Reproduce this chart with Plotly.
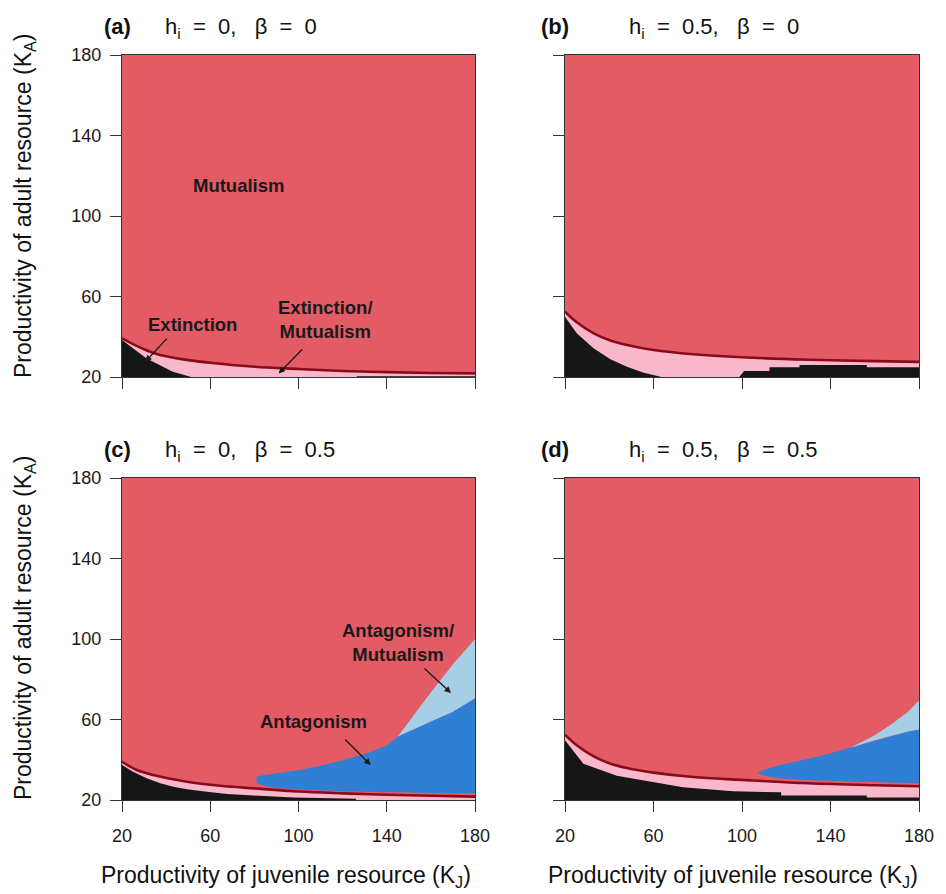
import plotly.graph_objects as go

W, H = 946, 894
OFF = 8  # the page body margin shifts the figure by 8 px
FW, FH = W - OFF, H - OFF
FONT = "Liberation Sans, Arial, Helvetica, sans-serif"

# ---------------- data ----------------
tick_vals = [20, 60, 100, 140, 180]

# Panel (a): h_i = 0, beta = 0
kj_line_a = [20, 25, 30, 35, 40, 50, 60, 80, 100, 120, 140, 160, 180]
ka_line_a = [39.2, 36.3, 33.8, 31.7, 30.3, 28.4, 27.1, 25.1, 24.0, 23.0, 22.4, 22.0, 21.8]
kj_ext_a = [20, 25, 31, 37, 43, 51, 52]
ka_ext_a = [38.4, 34.3, 29.3, 26.0, 22.6, 20.1, 19.0]
kj_ext2_a = [126, 126.5, 180]
ka_ext2_a = [19.0, 20.4, 20.4]

# Panel (b): h_i = 0.5, beta = 0
kj_line_b = [20, 25, 33, 40.5, 48, 60, 78, 100, 130, 160, 180]
ka_line_b = [52.5, 47.5, 41.7, 38.1, 35.9, 33.4, 31.3, 29.8, 28.6, 27.9, 27.5]
kj_ext_b = [20, 25.3, 32.9, 40.5, 48, 55.6, 63.2, 66.2]
ka_ext_b = [50.0, 41.7, 34.3, 28.8, 25.1, 22.1, 20.1, 19.0]
kj_ext2_b = [98, 101, 112.4, 112.4, 126, 126, 156.4, 156.4, 180]
ka_ext2_b = [19.0, 23.0, 23.0, 24.8, 24.8, 26.0, 26.0, 24.8, 24.8]

# Panel (c): h_i = 0, beta = 0.5
kj_line_c = [20, 26.7, 34.2, 49.4, 64.5, 79.7, 100, 120, 140, 160, 180]
ka_line_c = [39.0, 34.9, 32.4, 29.1, 27.1, 25.8, 24.2, 23.3, 22.6, 22.1, 21.7]
kj_ext_c = [20, 25, 31.2, 37.3, 43.3, 49.4, 58.5, 67.6, 79.7, 97.9, 126, 126.5]
ka_ext_c = [37.4, 34.0, 30.8, 28.3, 26.6, 25.3, 24.1, 23.0, 22.2, 21.3, 20.6, 19.0]
kj_blue_c = [81, 85, 90, 100, 110, 120, 130, 140, 145, 150, 160, 170, 180]
ka_blue_top_c = [31.6, 32.6, 33.2, 34.8, 37.0, 39.7, 42.8, 47.0, 51.5, 54.2, 59.0, 63.8, 70.5]
ka_blue_bot_c = [28.3, 27.0, 26.0, 25.2, 24.8, 24.4, 24.1, 23.8, 23.7, 23.6, 23.5, 23.4, 23.3]
kj_lb_c = [145, 150, 160, 170, 180]
ka_lb_top_c = [51.5, 59.0, 73.5, 87.5, 100.0]

# Panel (d): h_i = 0.5, beta = 0.5
kj_line_d = [20, 25, 33, 40, 48, 60, 78, 100, 130, 160, 180]
ka_line_d = [52.5, 47.5, 41.7, 38.3, 35.9, 33.6, 31.4, 30.0, 28.3, 27.3, 26.8]
kj_ext_d = [20, 28.3, 43.4, 60, 73.3, 96, 117.7, 117.7, 156.4, 156.4, 180]
ka_ext_d = [49.7, 38.0, 32.0, 28.8, 26.3, 24.3, 23.8, 22.2, 22.2, 21.3, 21.3]
kj_blue_d = [107.5, 110, 115, 120, 130, 140, 149, 160, 168, 175, 180]
ka_blue_top_d = [33.8, 35.0, 36.8, 38.0, 40.5, 43.2, 46.0, 49.7, 52.0, 54.0, 55.0]
ka_blue_bot_d = [33.0, 32.2, 31.0, 30.4, 29.8, 29.5, 29.2, 28.9, 28.7, 28.5, 28.3]
kj_lb_d = [149, 160, 168, 175, 180]
ka_lb_top_d = [46.0, 52.2, 58.0, 63.8, 69.5]

NB = "\u00a0"
panel_letters = ["(a)", "(b)", "(c)", "(d)"]
panel_params = [
    f"h<sub>i</sub>{NB}{NB}={NB}{NB}0,{NB}{NB}{NB}β{NB}{NB}={NB}{NB}0",
    f"h<sub>i</sub>{NB}{NB}={NB}{NB}0.5,{NB}{NB}{NB}β{NB}{NB}={NB}{NB}0",
    f"h<sub>i</sub>{NB}{NB}={NB}{NB}0,{NB}{NB}{NB}β{NB}{NB}={NB}{NB}0.5",
    f"h<sub>i</sub>{NB}{NB}={NB}{NB}0.5,{NB}{NB}{NB}β{NB}{NB}={NB}{NB}0.5",
]

# ---------------- styles ----------------
RED = "#E35B65"
PINK = "#F9B8CA"
BLACK = "#161616"
BLUE = "#2F7FD4"
LBLUE = "#A6CEE4"
LINE = "#8A0A1C"

fig = go.Figure()


def add_fill(x, y, color, xa, ya, mode="tozeroy"):
    fig.add_trace(go.Scatter(x=x, y=y, mode="lines", line=dict(width=0, color=color),
                             fill=mode, fillcolor=color, xaxis=xa, yaxis=ya,
                             hoverinfo="skip", showlegend=False))


def add_poly(kj, top, bot, color, xa, ya):
    add_fill(list(kj) + list(kj[::-1]), list(top) + list(bot[::-1]), color, xa, ya, "toself")


def add_line(x, y, xa, ya):
    fig.add_trace(go.Scatter(x=x, y=y, mode="lines", line=dict(width=2.6, color=LINE, shape="spline"),
                             xaxis=xa, yaxis=ya, hoverinfo="skip", showlegend=False))


def blue_top_sub(kj_blue, top, kj_lb):
    return [top[kj_blue.index(k)] for k in kj_lb]


# (a)
add_fill(kj_line_a, ka_line_a, PINK, "x", "y")
add_fill(kj_ext_a, ka_ext_a, BLACK, "x", "y")
add_fill(kj_ext2_a, ka_ext2_a, BLACK, "x", "y")
add_line(kj_line_a, ka_line_a, "x", "y")
# (b)
add_fill(kj_line_b, ka_line_b, PINK, "x2", "y2")
add_fill(kj_ext_b, ka_ext_b, BLACK, "x2", "y2")
add_fill(kj_ext2_b, ka_ext2_b, BLACK, "x2", "y2")
add_line(kj_line_b, ka_line_b, "x2", "y2")
# (c)
add_fill(kj_line_c, ka_line_c, PINK, "x3", "y3")
add_fill(kj_ext_c, ka_ext_c, BLACK, "x3", "y3")
add_poly(kj_blue_c, ka_blue_top_c, ka_blue_bot_c, BLUE, "x3", "y3")
add_poly(kj_lb_c, ka_lb_top_c, blue_top_sub(kj_blue_c, ka_blue_top_c, kj_lb_c), LBLUE, "x3", "y3")
add_line(kj_line_c, ka_line_c, "x3", "y3")
# (d)
add_fill(kj_line_d, ka_line_d, PINK, "x4", "y4")
add_fill(kj_ext_d, ka_ext_d, BLACK, "x4", "y4")
add_poly(kj_blue_d, ka_blue_top_d, ka_blue_bot_d, BLUE, "x4", "y4")
add_poly(kj_lb_d, ka_lb_top_d, blue_top_sub(kj_blue_d, ka_blue_top_d, kj_lb_d), LBLUE, "x4", "y4")
add_line(kj_line_d, ka_line_d, "x4", "y4")


def px_x(px):
    return (px - OFF) / FW


def px_y(py):
    return 1 - (py - OFF) / FH


col_px = [(122, 475), (565, 919)]
row_px = [(55, 377), (478, 800)]


def axis(dom, showlabels, is_x):
    return dict(domain=dom, range=[20, 180], tickvals=tick_vals, ticks="outside", ticklen=11,
                tickwidth=1.3, tickcolor="#333", showline=True, linecolor="#333", linewidth=1.4,
                mirror=True, showgrid=False, zeroline=False, showticklabels=showlabels,
                tickfont=dict(family=FONT, size=18, color="#1a1a1a"), fixedrange=True,
                automargin=False, ticklabelstandoff=8 if is_x else 5)


layout_axes = {}
names = [("xaxis", "yaxis", "x", "y"), ("xaxis2", "yaxis2", "x2", "y2"),
         ("xaxis3", "yaxis3", "x3", "y3"), ("xaxis4", "yaxis4", "x4", "y4")]
for i, (xn, yn, xr, yr) in enumerate(names):
    r, c = divmod(i, 2)
    xd = [px_x(col_px[c][0]), px_x(col_px[c][1])]
    yd = [px_y(row_px[r][1]), px_y(row_px[r][0])]
    layout_axes[xn] = axis(xd, r == 1, True) | dict(anchor=yr)
    layout_axes[yn] = axis(yd, c == 0, False) | dict(anchor=xr)

ann = []
# panel titles
title_pos = [(117, 163, 26), (555, 627, 26), (117, 163, 449), (555, 627, 449)]
for i, (lx, tx, ty) in enumerate(title_pos):
    ann.append(dict(x=px_x(lx), y=px_y(ty), xref="paper", yref="paper", showarrow=False,
                    text="<b>" + panel_letters[i] + "</b>", xanchor="center", yanchor="middle",
                    font=dict(family=FONT, size=22, color="#111")))
    ann.append(dict(x=px_x(tx), y=px_y(ty + 2), xref="paper", yref="paper", showarrow=False,
                    text=panel_params[i], xanchor="left", yanchor="middle",
                    font=dict(family=FONT, size=22, color="#111")))
# axis titles
for cy in (206, 628):
    ann.append(dict(x=px_x(24), y=px_y(cy), xref="paper", yref="paper", showarrow=False,
                    text="Productivity of adult resource (K<sub>A</sub>)", textangle=-90,
                    xanchor="center", yanchor="middle", font=dict(family=FONT, size=23, color="#111")))
for cx in (286, 733):
    ann.append(dict(x=px_x(cx), y=px_y(876), xref="paper", yref="paper", showarrow=False,
                    text="Productivity of juvenile resource (K<sub>J</sub>)",
                    xanchor="center", yanchor="middle", font=dict(family=FONT, size=23, color="#111")))

# region labels
bold = dict(family=FONT, size=18.5, color="#1a1a1a")
labels = [
    ("x", "y", 72.7, 115, "<b>Mutualism</b>"),
    ("x", "y", 51.8, 45.9, "<b>Extinction</b>"),
    ("x", "y", 112.3, 48.4, "<b>Extinction/<br>Mutualism</b>"),
    ("x3", "y3", 145, 98.5, "<b>Antagonism/<br>Mutualism</b>"),
    ("x3", "y3", 106.8, 58.8, "<b>Antagonism</b>"),
]
for xr, yr, x, y, t in labels:
    ann.append(dict(x=x, y=y, xref=xr, yref=yr, text=t, showarrow=False, font=bold,
                    align="center", xanchor="center", yanchor="middle"))

arrows = [
    ("x", "y", 41, 39.8, 30.5, 27.6),
    ("x", "y", 102.3, 34.4, 91, 21.8),
    ("x3", "y3", 156.4, 86, 169.1, 73.2),
    ("x3", "y3", 120.5, 50.8, 132.7, 37.4),
]
for xr, yr, x0, y0, x1, y1 in arrows:
    ann.append(dict(x=x1, y=y1, ax=x0, ay=y0, xref=xr, yref=yr, axref=xr, ayref=yr, text="",
                    showarrow=True, arrowhead=2, arrowsize=1, arrowwidth=1.3, arrowcolor="#1a1a1a",
                    standoff=0, startstandoff=0))

fig.update_layout(width=FW, height=FH, margin=dict(l=0, r=0, t=0, b=0, autoexpand=False),
                  paper_bgcolor="white", plot_bgcolor=RED, showlegend=False,
                  annotations=ann, font=dict(family=FONT), **layout_axes)

fig.write_html("out.html")
